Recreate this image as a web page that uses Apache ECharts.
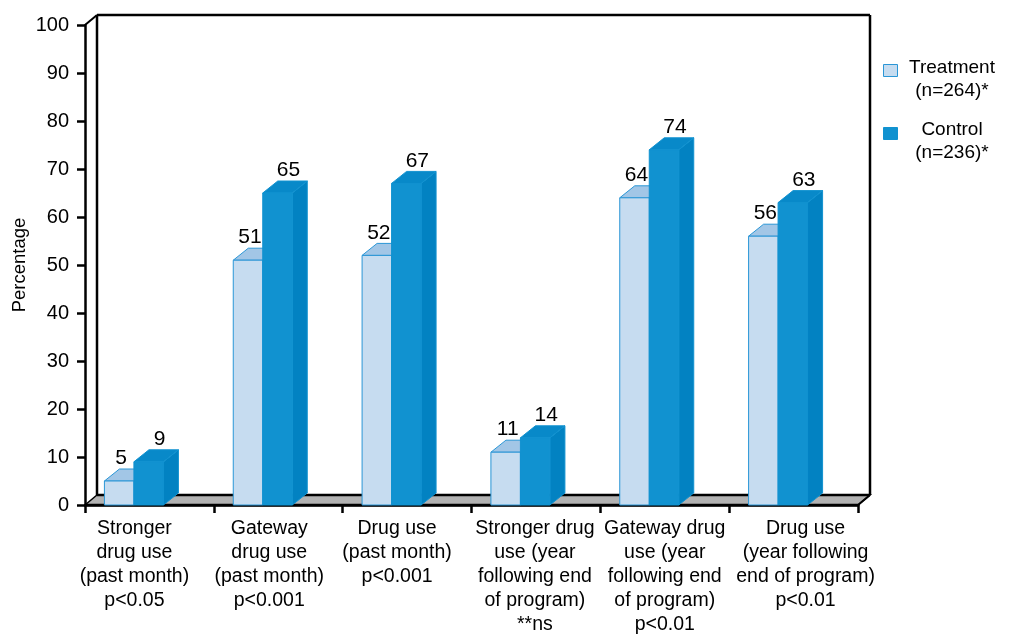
<!DOCTYPE html>
<html>
<head>
<meta charset="utf-8">
<style>
  html, body { margin: 0; padding: 0; background: #fff; }
  #chart { width: 1013px; height: 635px; }
</style>
<script src="https://cdn.jsdelivr.net/npm/echarts@6/dist/echarts.min.js"></script>
</head>
<body>
<div id="chart"></div>
<script>
const CATEGORIES = [
  "Stronger\ndrug use\n(past month)\np<0.05",
  "Gateway\ndrug use\n(past month)\np<0.001",
  "Drug use\n(past month)\np<0.001",
  "Stronger drug\nuse (year\nfollowing end\nof program)\n**ns",
  "Gateway drug\nuse (year\nfollowing end\nof program)\np<0.01",
  "Drug use\n(year following\nend of program)\np<0.01",
];
const TREATMENT = [5, 51, 52, 11, 64, 56];
const CONTROL = [9, 65, 67, 14, 74, 63];
const SERIES_NAMES = ["Treatment", "Control"];
const LEGEND_LABELS = ["Treatment\n(n=264)*", "Control\n(n=236)*"];
const Y_TICKS = { min: 0, max: 100, step: 10 };

// horizontal nudge of each category label, as in the original artwork (px)
const LABEL_NUDGE = [-15, -9, -10, -1, 0, 12];

const FONT = '"Liberation Sans", Arial, Helvetica, sans-serif';
const palette = {
  text: "#000000",
  floor: "#b2b2b2",
  treat: { front: "#c6dcf0", top: "#a2c6e6", side: "#a2c6e6", stroke: "#2a96d6" },
  ctrl: { front: "#1192d0", top: "#0889c9", side: "#0282c2", stroke: "#1192d0" },
};

// bar geometry (px)
const BAR_W = 29.5;
const BAR_DX = 15;
const BAR_DY = 12;
const WALL_DX = 12;
const WALL_DY = 10;

function frameRender(params, api) {
  const bw = api.size([1, 0])[0];
  const first = api.coord([0, 0]);
  const last = api.coord([CATEGORIES.length - 1, 0]);
  const x0 = first[0] - bw / 2;
  const x1 = last[0] + bw / 2;
  const y0 = first[1];
  const yTop = api.coord([0, Y_TICKS.max])[1];
  const line = (a, b, w) => ({
    type: "line",
    shape: { x1: a[0], y1: a[1], x2: b[0], y2: b[1] },
    style: { stroke: "#000", lineWidth: w },
  });
  return {
    type: "group",
    children: [
      {
        type: "polygon",
        shape: { points: [[x0, y0], [x0 + WALL_DX, y0 - WALL_DY], [x1 + WALL_DX, y0 - WALL_DY], [x1, y0]] },
        style: { fill: palette.floor, stroke: "#000", lineWidth: 1.5 },
      },
      line([x0 + WALL_DX, y0 - WALL_DY], [x1 + WALL_DX, y0 - WALL_DY], 2.5),
      line([x0 + WALL_DX, yTop - WALL_DY], [x0 + WALL_DX, y0 - WALL_DY], 2.5),
      line([x0, yTop], [x0 + WALL_DX, yTop - WALL_DY], 2),
      line([x0 + WALL_DX, yTop - WALL_DY], [x1 + WALL_DX, yTop - WALL_DY], 2.5),
      line([x1 + WALL_DX, yTop - WALL_DY], [x1 + WALL_DX, y0 - WALL_DY], 2.5),
      line([x1, y0], [x1 + WALL_DX, y0 - WALL_DY], 2),
      line([x0, y0], [x1, y0], 2.5),
    ],
  };
}

function makeBarRender(offset, colors, labelShift) {
  return function (params, api) {
    const idx = api.value(0);
    const val = api.value(1);
    const top = api.coord([idx, val]);
    const base = api.coord([idx, 0]);
    const left = top[0] + offset;
    const right = left + BAR_W;
    const yT = top[1];
    const yB = base[1];
    return {
      type: "group",
      children: [
        {
          type: "polygon",
          shape: { points: [[right, yT], [right + BAR_DX, yT - BAR_DY], [right + BAR_DX, yB - BAR_DY], [right, yB]] },
          style: { fill: colors.side, stroke: colors.stroke, lineWidth: 1 },
        },
        {
          type: "polygon",
          shape: { points: [[left, yT], [left + BAR_DX, yT - BAR_DY], [right + BAR_DX, yT - BAR_DY], [right, yT]] },
          style: { fill: colors.top, stroke: colors.stroke, lineWidth: 1 },
        },
        {
          type: "rect",
          shape: { x: left, y: yT, width: BAR_W, height: yB - yT },
          style: { fill: colors.front, stroke: colors.stroke, lineWidth: 1 },
        },
        {
          type: "text",
          x: left + BAR_W / 2 + labelShift,
          y: yT - BAR_DY,
          style: {
            text: String(val),
            fill: palette.text,
            font: "21px " + FONT,
            align: "center",
            verticalAlign: "bottom",
          },
        },
      ],
    };
  };
}

const chart = echarts.init(document.getElementById("chart"));

const categoryData = CATEGORIES.map((name, i) => {
  const n = LABEL_NUDGE[i];
  return {
    value: name,
    textStyle: { padding: n < 0 ? [0, -2 * n, 0, 0] : [0, 0, 0, 2 * n] },
  };
});

chart.setOption({
  animation: false,
  grid: { left: 85, right: 155, top: 25, bottom: 130, containLabel: false, outerBoundsMode: "none" },
  xAxis: {
    type: "category",
    data: categoryData,
    boundaryGap: true,
    axisLine: { show: true, lineStyle: { color: "#000", width: 2.5 } },
    axisTick: { show: true, interval: 0, length: 8, lineStyle: { color: "#000", width: 2.5 } },
    axisLabel: {
      interval: 0,
      color: palette.text,
      fontFamily: FONT,
      fontSize: 19.5,
      lineHeight: 24,
      margin: 12,
    },
    splitLine: { show: false },
  },
  yAxis: {
    type: "value",
    min: Y_TICKS.min,
    max: Y_TICKS.max,
    interval: Y_TICKS.step,
    name: "Percentage",
    nameLocation: "middle",
    nameRotate: 90,
    nameGap: 56,
    nameMoveOverlap: false,
    nameTextStyle: { color: palette.text, fontFamily: FONT, fontSize: 18.5 },
    axisLine: { show: true, lineStyle: { color: "#000", width: 2.5 } },
    axisTick: { show: true, length: 8, lineStyle: { color: "#000", width: 2.5 } },
    axisLabel: { color: palette.text, fontFamily: FONT, fontSize: 20, margin: 16 },
    splitLine: { show: false },
  },
  graphic: [
    { type: "rect", left: 883, top: 64, shape: { width: 14, height: 12 },
      style: { fill: palette.treat.front, stroke: palette.treat.stroke, lineWidth: 1 } },
    { type: "text", x: 952, y: 56, style: { text: LEGEND_LABELS[0], fill: palette.text,
      font: "19px " + FONT, align: "center", lineHeight: 23.5 } },
    { type: "rect", left: 883, top: 127, shape: { width: 14, height: 12 },
      style: { fill: palette.ctrl.front, stroke: palette.ctrl.stroke, lineWidth: 1 } },
    { type: "text", x: 952, y: 118, style: { text: LEGEND_LABELS[1], fill: palette.text,
      font: "19px " + FONT, align: "center", lineHeight: 23.5 } },
  ],
  series: [
    {
      name: "frame",
      type: "custom",
      silent: true,
      z: 1,
      data: [[0, 0]],
      renderItem: frameRender,
    },
    {
      name: SERIES_NAMES[0],
      type: "custom",
      z: 3,
      data: TREATMENT.map((v, i) => [i, v]),
      renderItem: makeBarRender(-45, palette.treat, 2),
    },
    {
      name: SERIES_NAMES[1],
      type: "custom",
      z: 4,
      data: CONTROL.map((v, i) => [i, v]),
      renderItem: makeBarRender(-15.5, palette.ctrl, 11),
    },
  ],
});
</script>
</body>
</html>
